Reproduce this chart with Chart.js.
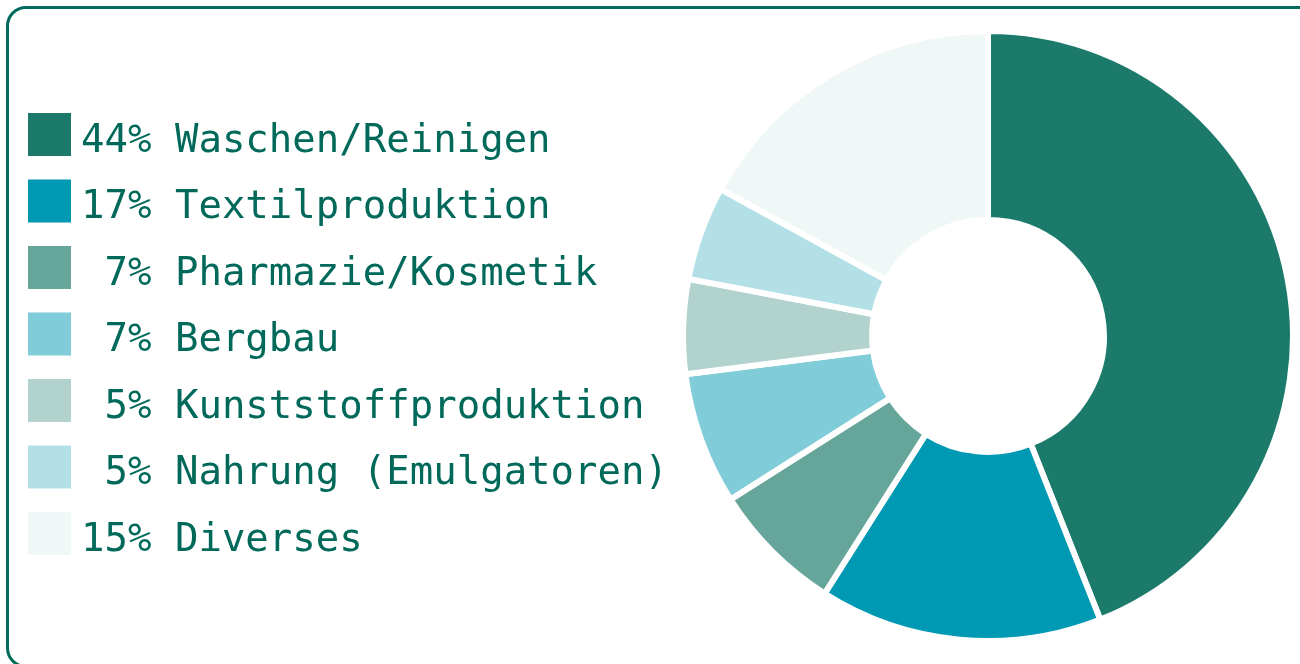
<!DOCTYPE html>
<html>
<head>
<meta charset="utf-8">
<script src="https://cdn.jsdelivr.net/npm/chart.js@4/dist/chart.umd.min.js"></script>
<style>
  html, body { margin: 0; padding: 0; background: #ffffff; overflow: hidden; }
  #frame {
    position: absolute; left: 6px; top: 6px; width: 1320px; height: 656px;
    border: 3px solid #006B5B; border-radius: 20px; box-sizing: content-box;
  }
  #c { position: absolute; left: 0; top: 0; }
</style>
</head>
<body>
<div id="frame"></div>
<canvas id="c" width="1300" height="664"></canvas>
<script>
// ---- data ----
const categories = ["Waschen/Reinigen", "Textilproduktion", "Pharmazie/Kosmetik", "Bergbau", "Kunststoffproduktion", "Nahrung (Emulgatoren)", "Diverses"];
const percentLabels = ["44%", "17%", " 7%", " 7%", " 5%", " 5%", "15%"];
const sliceValues = [44, 15, 7, 7, 5, 5, 17];
const sliceColors = ["#1C7A6B", "#0099B4", "#66A59A", "#80CCD9", "#B2D2CD", "#B3DFE7", "#F0F7F7"];

const legendPlugin = {
  id: 'leftLegend',
  afterDraw(chart) {
    const ctx = chart.ctx;
    const ds = chart.data.datasets[0];
    ctx.save();
    ctx.font = '39px "DejaVu Sans Mono", monospace';
    ctx.textBaseline = 'alphabetic';
    chart.data.labels.forEach((lab, i) => {
      const top = 113 + i * 66.5;
      ctx.fillStyle = ds.backgroundColor[i];
      ctx.fillRect(28, top, 43, 43);
      ctx.fillStyle = '#00695A';
      ctx.fillText(percentLabels[i] + ' ' + lab, 81, top + 38.5);
    });
    ctx.restore();
  }
};

new Chart(document.getElementById('c'), {
  type: 'doughnut',
  data: {
    labels: categories,
    datasets: [{
      data: sliceValues,
      backgroundColor: sliceColors,
      borderColor: '#ffffff',
      borderWidth: 6,
      hoverBorderWidth: 6,
      hoverOffset: 0,
      offset: 0
    }]
  },
  options: {
    responsive: false,
    animation: false,
    cutout: '38%',
    layout: { padding: { left: 680, right: 4, top: 28, bottom: 20 } },
    plugins: {
      legend: { display: false },
      tooltip: { enabled: false }
    }
  },
  plugins: [legendPlugin]
});
</script>
</body>
</html>
